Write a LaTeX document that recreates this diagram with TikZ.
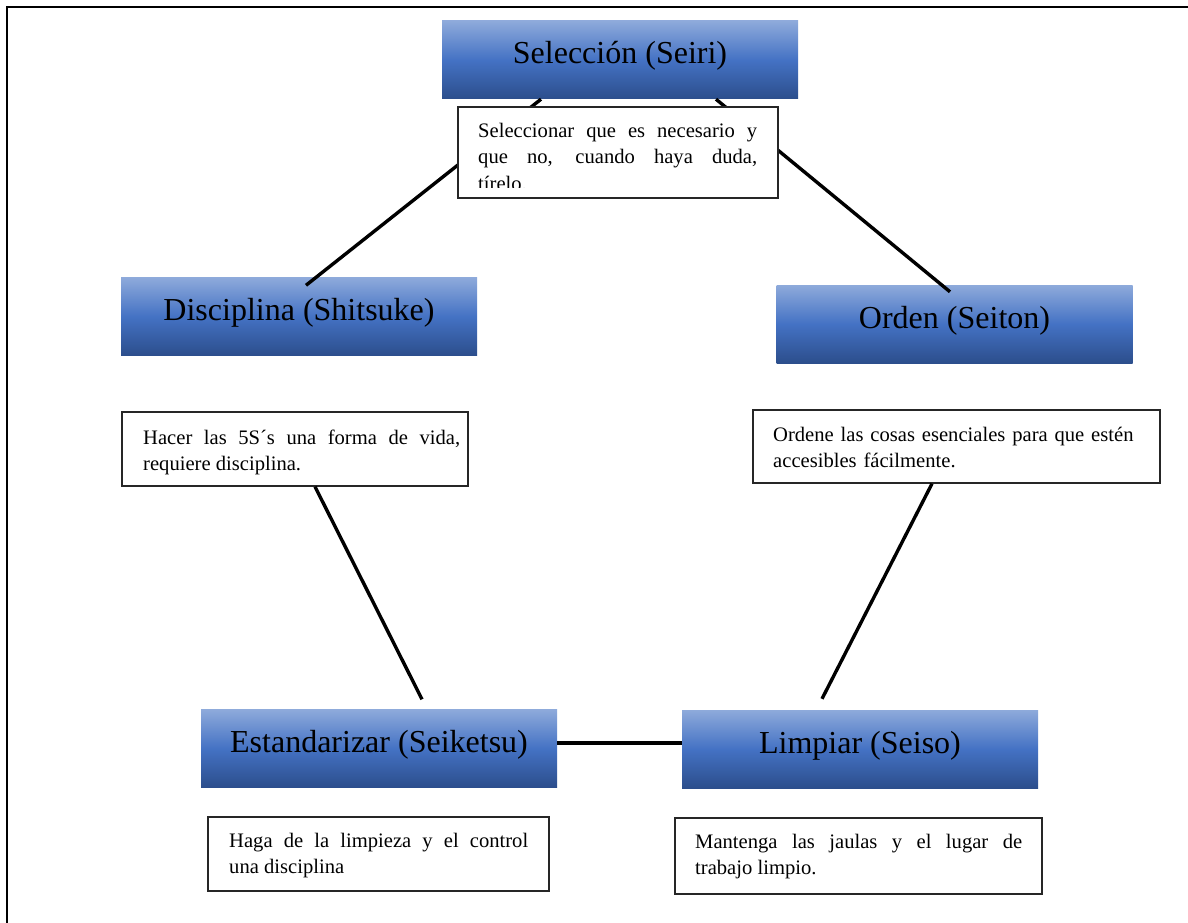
\documentclass[tikz,border=0pt]{standalone}
\usepackage{fontspec}
\setmainfont{Liberation Serif}
\definecolor{btop}{RGB}{142,170,219}
\definecolor{bmid}{RGB}{68,114,196}
\definecolor{bbot}{RGB}{44,78,140}
\tikzset{
  sbox/.style={rectangle, minimum width=356pt, minimum height=78pt, inner sep=0pt,
    top color=btop, bottom color=bbot, middle color=bmid},
  stitle/.style={anchor=base, inner sep=0pt, font=\fontsize{32}{38}\selectfont},
  dbox/.style={rectangle, draw=black!85, line width=1.3pt, fill=white, inner sep=0pt},
  dtext/.style={anchor=base west, inner sep=0pt, align=justify, font=\fontsize{20.6}{26.5}\selectfont},
  link/.style={line width=3.4pt, line cap=butt},
  frame/.style={line width=2.2pt},
}
\begin{document}
\begin{tikzpicture}[x=1pt,y=-1pt]
\useasboundingbox[fill=white] (0,0) rectangle (1188,923);
\draw[frame] (7,923) -- (7,7) -- (1188,7);

% blue title boxes
\node[sbox] (seiri)  at (620,60)    {};
\node[sbox] (disc)   at (299,316.5) {};
\node[sbox] (orden)  at (954.5,324) {};
\node[sbox] (estand) at (379,748.5) {};
\node[sbox] (limp)   at (860,749)   {};

\node[stitle] (seiriT)  at (620,64)   {Selección (Seiri)};
\node[stitle] (discT)   at (299,320)  {Disciplina (Shitsuke)};
\node[stitle] (ordenT)  at (954.5,328) {Orden (Seiton)};
\node[stitle] (estandT) at (379,752)  {Estandarizar (Seiketsu)};
\node[stitle] (limpT)   at (860,753)  {Limpiar (Seiso)};

% description boxes (placed before links where links pass under them)
\node[dbox, minimum width=346pt, minimum height=74pt] (discdesc)  at (295,449)    {};
\node[dbox, minimum width=407pt, minimum height=73pt] (ordendesc) at (956.5,446.5) {};
\node[dbox, minimum width=341pt, minimum height=74pt] (estdesc)   at (378.5,854)  {};
\node[dbox, minimum width=367pt, minimum height=76pt] (limpdesc)  at (858.5,856)  {};

% connectors
\draw[link] ([xshift=-79pt]seiri.south) -- ([xshift=7pt,yshift=-8pt]disc.north);
\draw[link] ([xshift=96pt]seiri.south) -- ([xshift=-4.5pt,yshift=-7pt]orden.north);
\draw[link] ([xshift=20pt]discdesc.south) -- ([xshift=43pt,yshift=10pt]estand.north);
\draw[link] ([xshift=-24.5pt]ordendesc.south) -- ([xshift=-38pt,yshift=11pt]limp.north);
\draw[link] ([yshift=5.5pt]estand.east) -- ([yshift=6pt]limp.west);

% top description box covers the connectors
\node[dbox, minimum width=320pt, minimum height=91pt] (seiridesc) at (618,152.5) {};
\begin{scope}
  \clip (458,107) rectangle (778,187);
  \node[dtext, text width=279pt] (seiridescT) at (478,137)
    {Seleccionar que es necesario y\linebreak que no, cuando haya duda,\linebreak tírelo.};
\end{scope}

\node[dtext, text width=317pt] (discdescT) at (143,444)
  {Hacer las 5S´s una forma de vida,\linebreak requiere disciplina.};
\node[dtext, text width=380pt, align=left] (ordendescT) at (773,441)
  {Ordene las cosas esenciales para que estén\\ accesibles fácilmente.};
\node[dtext, text width=299pt] (estdescT) at (229,847)
  {Haga de la limpieza y el control\linebreak una disciplina};
\node[dtext, text width=327pt] (limpdescT) at (695,848)
  {Mantenga las jaulas y el lugar de\linebreak trabajo limpio.};
\end{tikzpicture}
\end{document}
